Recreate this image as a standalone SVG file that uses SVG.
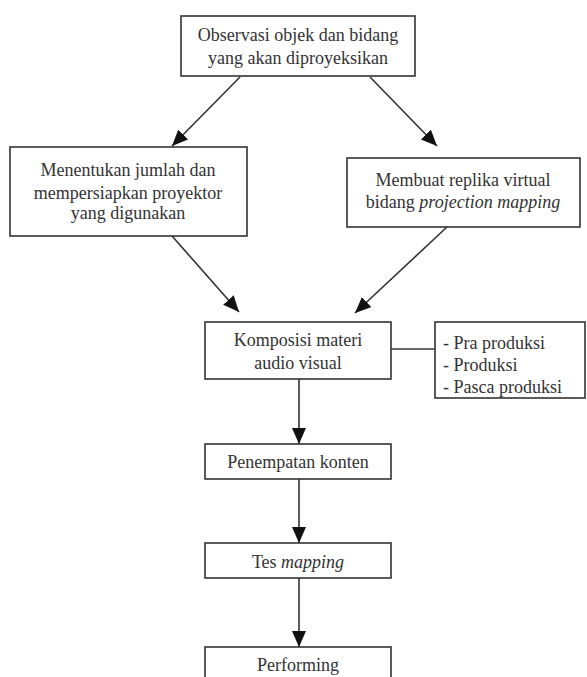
<svg xmlns="http://www.w3.org/2000/svg" width="587" height="677" viewBox="0 0 587 677">
<style>
.box{fill:#fff;stroke:#333;stroke-width:1.6}
.t{font-family:"Liberation Serif","Times New Roman",serif;font-size:18px;fill:#333;text-anchor:middle}
.l{text-anchor:start}
.c{stroke:#333;stroke-width:1.6;fill:none}
</style>
<defs>
<marker id="ah" markerUnits="userSpaceOnUse" markerWidth="18" markerHeight="16" refX="16" refY="7" orient="auto">
<path d="M0,0 L16,7 L0,14 z" fill="#111"/>
</marker>
</defs>
<rect width="587" height="677" fill="#fff"/>
<g id="connectors">
<line class="c" x1="240" y1="77" x2="172" y2="146" marker-end="url(#ah)"/>
<line class="c" x1="370" y1="77" x2="437" y2="146" marker-end="url(#ah)"/>
<line class="c" x1="172" y1="236" x2="239" y2="312" marker-end="url(#ah)"/>
<line class="c" x1="447" y1="227" x2="355" y2="313" marker-end="url(#ah)"/>
<line class="c" x1="391" y1="349" x2="435" y2="349"/>
<line class="c" x1="299" y1="379" x2="299" y2="444" marker-end="url(#ah)"/>
<line class="c" x1="299" y1="479" x2="299" y2="543" marker-end="url(#ah)"/>
<line class="c" x1="299" y1="578" x2="299" y2="647" marker-end="url(#ah)"/>
</g>
<g id="n1">
<rect class="box" x="181" y="16" width="234" height="60"/>
<text class="t" x="298" y="41">Observasi objek dan bidang</text>
<text class="t" x="298" y="64">yang akan diproyeksikan</text>
</g>
<g id="n2">
<rect class="box" x="10" y="147" width="237" height="89"/>
<text class="t" x="128" y="176">Menentukan jumlah dan</text>
<text class="t" x="128" y="199">mempersiapkan proyektor</text>
<text class="t" x="128" y="219">yang digunakan</text>
</g>
<g id="n3">
<rect class="box" x="347" y="158" width="233" height="69"/>
<text class="t" x="463" y="186">Membuat replika virtual</text>
<text class="t" x="463" y="208">bidang <tspan font-style="italic">projection mapping</tspan></text>
</g>
<g id="n4">
<rect class="box" x="205" y="322" width="186" height="57"/>
<text class="t" x="298" y="346">Komposisi materi</text>
<text class="t" x="298" y="369">audio visual</text>
</g>
<g id="n5">
<rect class="box" x="435" y="322" width="150" height="76"/>
<text class="t l" x="443" y="349">- Pra produksi</text>
<text class="t l" x="443" y="371">- Produksi</text>
<text class="t l" x="443" y="393">- Pasca produksi</text>
</g>
<g id="n6">
<rect class="box" x="205" y="444" width="186" height="35"/>
<text class="t" x="298" y="468">Penempatan konten</text>
</g>
<g id="n7">
<rect class="box" x="205" y="543" width="186" height="35"/>
<text class="t" x="298" y="568">Tes <tspan font-style="italic">mapping</tspan></text>
</g>
<g id="n8">
<rect class="box" x="205" y="647" width="186" height="40"/>
<text class="t" x="298" y="671">Performing</text>
</g>
</svg>
